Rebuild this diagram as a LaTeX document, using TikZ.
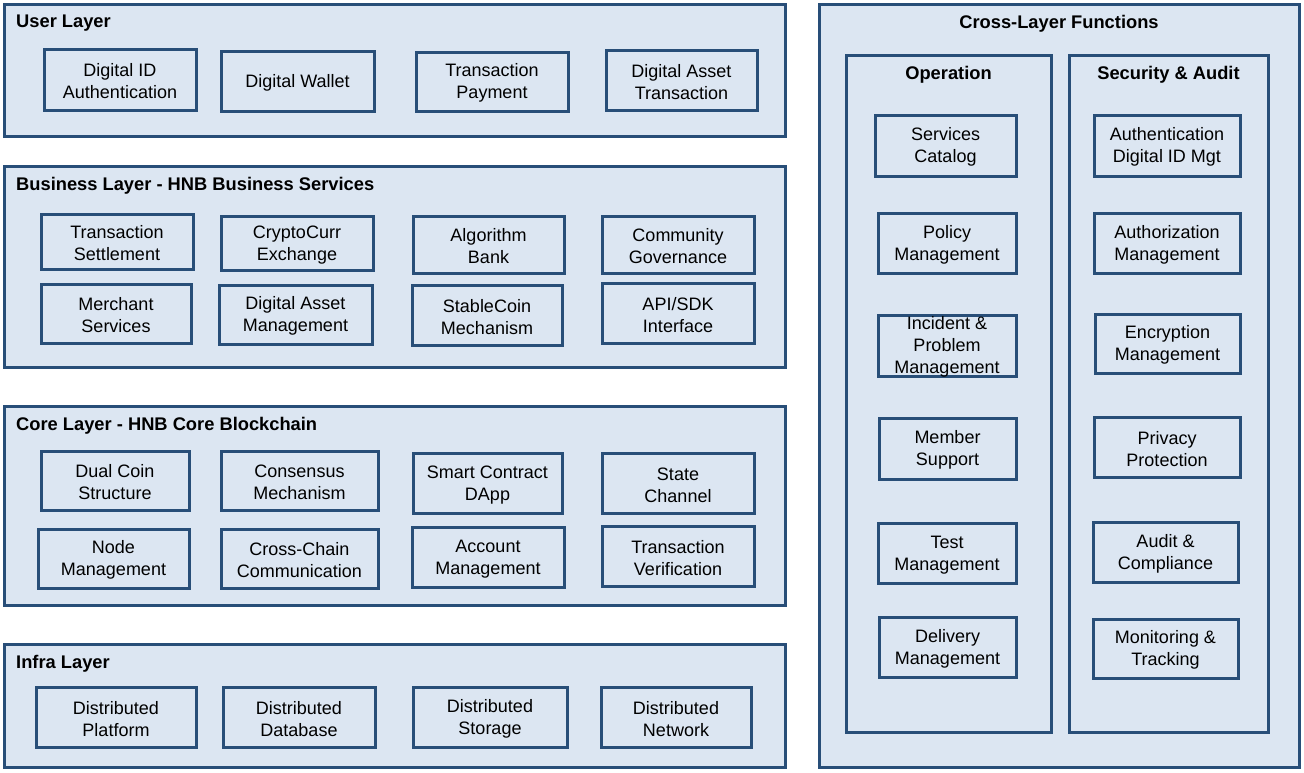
\documentclass[tikz,border=0pt]{standalone}
\usepackage{fontspec}
\setmainfont{Liberation Sans}
\definecolor{layerfill}{RGB}{220,230,242}
\definecolor{layerline}{RGB}{40,78,120}
\tikzset{
	layer/.style={line width=3pt, draw=layerline, fill=layerfill},
	cell/.style={draw=layerline, line width=3pt, fill=layerfill, inner sep=0pt,
		label={[cellText]center:#1}},
	cellText/.style={inner sep=0pt, yshift=-1.8pt, align=center, font=\fontsize{18}{22}\selectfont},
	title/.style={inner sep=0pt, font=\fontsize{18.3}{22}\selectfont\bfseries}
}
\begin{document}
\begin{tikzpicture}[x=1pt, y=-1pt]
		\useasboundingbox (0,0) rectangle (1304,772);
		\draw[layer] (4,4) rectangle (785,136);
		\draw[layer] (4,166) rectangle (785,367);
		\draw[layer] (4,406) rectangle (785,605);
		\draw[layer] (4,644) rectangle (785,767);
		\draw[layer] (819,4) rectangle (1299,767);
		\draw[layer] (846,55) rectangle (1051,732);
		\draw[layer] (1069,55) rectangle (1268,732);
		\node[title, anchor=west] (tUser) at (16,23.5) {User Layer};
		\node[title, anchor=west] (tBusiness) at (16,185.5) {Business Layer - HNB Business Services};
		\node[title, anchor=west] (tCore) at (16,425.5) {Core Layer - HNB Core Blockchain};
		\node[title, anchor=west] (tInfra) at (16,663.5) {Infra Layer};
		\node[title] (tCross) at (1059,23.5) {Cross-Layer Functions};
		\node[title] (tOper) at (948.5,74.5) {Operation};
		\node[title] (tSec) at (1168.5,74.5) {Security \& Audit};
		\foreach \n/\x/\y/\w/\h/\t in {
			u1/120/79.5/152/61/{Digital ID\\Authentication},
			u2/297.5/81/153/60/{Digital Wallet},
			u3/492/81.5/152/59/{Transaction\\Payment},
			u4/681.5/80/151/60/{Digital Asset\\Transaction}}
		{
			\node[cell={\t}, minimum width=\w, minimum height=\h] (\n) at (\x,\y) {};
		}
		\foreach \n/\x/\y/\w/\h/\t in {
			b1/117/241.5/152/55/{Transaction\\Settlement},
			b2/297/243/152/54/{CryptoCurr\\Exchange},
			b3/488.5/244.5/151/57/{Algorithm\\Bank},
			b4/678/244.5/152/57/{Community\\Governance},
			b5/116/313.5/150/59/{Merchant\\Services},
			b6/295.5/314.5/153/59/{Digital Asset\\Management},
			b7/487/315/150/60/{StableCoin\\Mechanism},
			b8/678/313/152/60/{API/SDK\\Interface}}
		{
			\node[cell={\t}, minimum width=\w, minimum height=\h] (\n) at (\x,\y) {};
		}
		\foreach \n/\x/\y/\w/\h/\t in {
			c1/115/480.5/148/59/{Dual Coin\\Structure},
			c2/299.5/480.5/157/59/{Consensus\\Mechanism},
			c3/487.5/483/149/60/{Smart Contract\\DApp},
			c4/678/483/152/60/{State\\Channel},
			c5/113.5/558.5/151/59/{Node\\Management},
			c6/299.5/558.5/157/59/{Cross-Chain\\Communication},
			c7/488/557/152/60/{Account\\Management},
			c8/678/556/152/60/{Transaction\\Verification}}
		{
			\node[cell={\t}, minimum width=\w, minimum height=\h] (\n) at (\x,\y) {};
		}
		\foreach \n/\x/\w/\t in {
			i1/116/160/{Distributed\\Platform},
			i2/299/152/{Distributed\\Database},
			i3/490/154/{Distributed\\Storage},
			i4/676/150/{Distributed\\Network}}
		{
			\node[cell={\t}, minimum width=\w, minimum height=60] (\n) at (\x,717) {};
		}
		\foreach \n/\x/\y/\w/\h/\t in {
			o1/945.5/145.5/141/61/{Services\\Catalog},
			o2/947/243/138/60/{Policy\\Management},
			o3/947/345.5/138/61/{Incident \&\\Problem\\Management},
			o4/947.5/448.5/137/61/{Member\\Support},
			o5/947/553/138/60/{Test\\Management},
			o6/947.5/647/137/60/{Delivery\\Management}}
		{
			\node[cell={\t}, minimum width=\w, minimum height=\h] (\n) at (\x,\y) {};
		}
		\foreach \n/\x/\y/\w/\h/\t in {
			s1/1167/145.5/146/61/{Authentication\\Digital ID Mgt},
			s2/1167/243/146/60/{Authorization\\Management},
			s3/1167.5/343.5/145/59/{Encryption\\Management},
			s4/1167/447/146/60/{Privacy\\Protection},
			s5/1165.5/552/145/60/{Audit \&\\Compliance},
			s6/1165.5/648.5/145/59/{Monitoring \&\\Tracking}}
		{
			\node[cell={\t}, minimum width=\w, minimum height=\h] (\n) at (\x,\y) {};
		}
	\end{tikzpicture}
\end{document}
